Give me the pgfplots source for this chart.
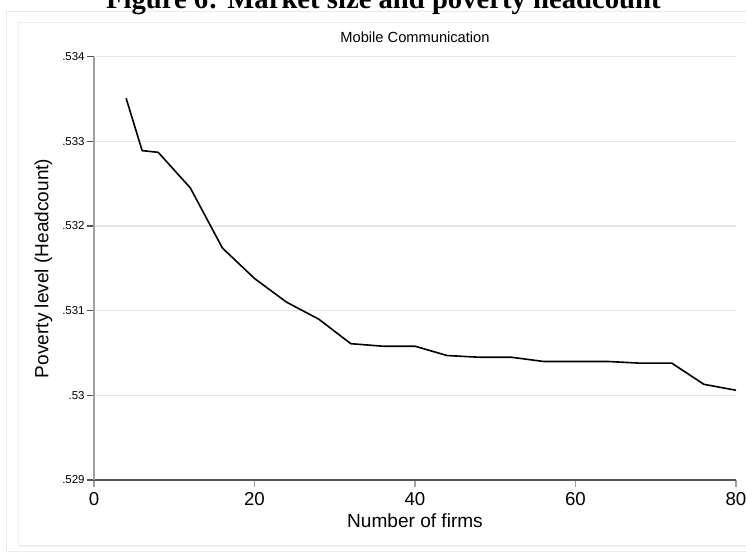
\documentclass[border=0pt]{standalone}
\usepackage{pgfplots}
\pgfplotsset{compat=1.18}
\usepackage{fontspec}
\setmainfont{Liberation Sans}
\newfontfamily\titlefont{Liberation Serif}
\definecolor{gridc}{HTML}{E6E6E6}
\definecolor{yaxc}{HTML}{A0A0A0}
\definecolor{xaxc}{HTML}{555555}
\definecolor{outerf}{HTML}{EAEAEA}
\definecolor{innerf}{HTML}{F0F0F0}
\begin{document}
\begin{tikzpicture}
\draw[outerf, line width=0.8pt] (4.9pt,0.6pt) rectangle (600pt,405.4pt);
\draw[innerf, line width=0.8pt] (13.6pt,4.5pt) rectangle (600pt,396.8pt);
\node[anchor=base, font=\titlefont\bfseries\fontsize{21.5pt}{24pt}\selectfont, inner sep=0pt] at (287.5pt,407.6pt) {Figure 6: Market size and poverty headcount};
\begin{axis}[
  at={(70.5pt,54pt)}, anchor=south west,
  scale only axis, width=481.5pt, height=317.5pt,
  xmin=0, xmax=80, ymin=0.529, ymax=0.534,
  axis x line*=bottom, axis y line*=left,
  x axis line style={xaxc, line width=0.9pt},
  y axis line style={yaxc, line width=1.2pt},
  xtick={0,20,40,60,80},
  ytick={0.529,0.530,0.531,0.532,0.533,0.534},
  yticklabels={.529,.53,.531,.532,.533,.534},
  tick align=outside,
  major tick length=5pt,
  x tick style={yaxc, line width=0.8pt},
  y tick style={xaxc, line width=0.8pt},
  xticklabel style={font=\fontsize{14pt}{16pt}\selectfont, yshift=-1pt},
  yticklabel style={font=\fontsize{8.6pt}{10pt}\selectfont, xshift=1.5pt},
  /pgf/number format/assume math mode=true,
  ymajorgrids, grid style={gridc, line width=1pt},
  xlabel={Number of firms},
  ylabel={Poverty level (Headcount)},
  xlabel style={at={(axis description cs:0.5,-0.0961)}, anchor=center, font=\fontsize{14.3pt}{16pt}\selectfont},
  ylabel style={at={(axis description cs:-0.0787,0.5)}, anchor=center, font=\fontsize{14.3pt}{16pt}\selectfont},
  title={Mobile Communication},
  title style={at={(axis description cs:0.5,1.026)}, anchor=center, font=\fontsize{11pt}{13pt}\selectfont},
  clip=false,
]
\addplot[black, line width=1.2pt] coordinates {
(4,0.53351) (6,0.53289) (8,0.53287) (12,0.53245) (16,0.53174) (20,0.53138)
(24,0.53110) (28,0.53090) (32,0.53061) (36,0.53058) (40,0.53058) (44,0.53047)
(48,0.53045) (52,0.53045) (56,0.53040) (60,0.53040) (64,0.53040) (68,0.53038)
(72,0.53038) (76,0.53013) (80,0.53006)
};
\end{axis}
\pgfresetboundingbox
\useasboundingbox (0,0) rectangle (559.5pt,414pt);
\end{tikzpicture}
\end{document}
